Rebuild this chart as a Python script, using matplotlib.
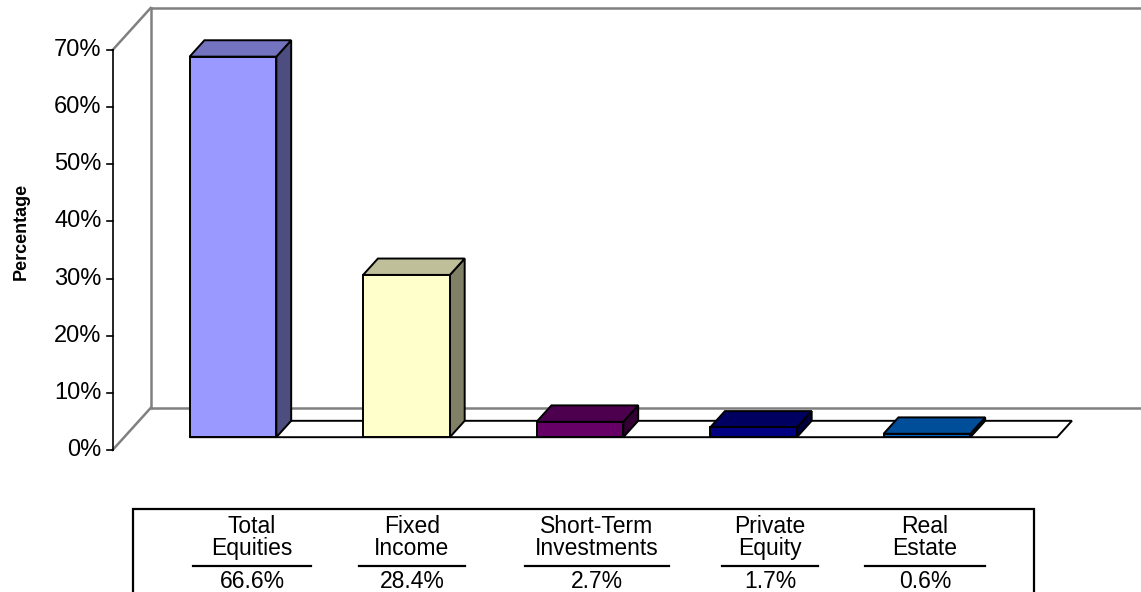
import matplotlib
matplotlib.use('Agg')
import matplotlib.pyplot as plt
from matplotlib.patches import Polygon, Rectangle
from matplotlib.colors import to_rgb

plt.rcParams['font.family'] = ['Liberation Sans', 'DejaVu Sans']

# data
categories = ['Total\nEquities', 'Fixed\nIncome', 'Short-Term\nInvestments', 'Private\nEquity', 'Real\nEstate']
values = [66.6, 28.4, 2.7, 1.7, 0.6]
value_labels = ['66.6%', '28.4%', '2.7%', '1.7%', '0.6%']
yticks = [0, 10, 20, 30, 40, 50, 60, 70]
colors = ['#9999FF', '#FFFFCC', '#660066', '#000080', '#0066CC']

W, H = 1141, 592
fig = plt.figure(figsize=(W / 100, H / 100), dpi=100)
ax = fig.add_axes([0, 0, 1, 1])

# pixel layout -> data units (category index, percent)
UPX = 173.5      # px per category
PPX = 5.714      # px per percent
X0, Y0 = 221.4, 450.0
ax.set_xlim(-X0 / UPX, (W - X0) / UPX)
ax.set_ylim((Y0 - H) / PPX, Y0 / PPX)
ax.axis('off')

DX = 38 / UPX    # depth offset
DY = 42 / PPX
d0, d1 = 0.305, 0.695   # bar depth range
bw = 0.25               # half bar width
left = -0.627
right = 5.6
top = yticks[-1]

gray = '#808080'
# back wall and floor edges
ax.plot([left + DX, right], [DY, DY], color=gray, lw=1.8, solid_capstyle='butt')
ax.plot([left + DX, right], [top + DY, top + DY], color=gray, lw=1.8, solid_capstyle='butt')
ax.plot([left + DX, left + DX], [DY, top + DY], color=gray, lw=1.8)
ax.plot([left, left + DX], [0, DY], color=gray, lw=1.8)
ax.plot([left, left + DX], [top, top + DY], color=gray, lw=1.8)

# front value axis
ax.plot([left, left], [0, top], color='black', lw=1.2, zorder=5)
for t in yticks:
    ax.plot([left - 6 / UPX, left], [t, t], color='black', lw=1.2, zorder=5)
    ax.text(left - 11 / UPX, t, '%d%%' % t, ha='right', va='center', fontsize=17)

# thin floor strip under the series
n = len(values)
strip = [(-bw + d0 * DX, d0 * DY), (n - 1 + 3 * bw + d0 * DX, d0 * DY),
         (n - 1 + 3 * bw + d1 * DX, d1 * DY), (-bw + d1 * DX, d1 * DY)]
ax.add_patch(Polygon(strip, closed=True, facecolor='white', edgecolor='black', lw=1.4, zorder=2))


def shade(c, f):
    r, g, b = to_rgb(c)
    return (r * f, g * f, b * f)


for i, (v, c) in enumerate(zip(values, colors)):
    xl0 = i - bw + d0 * DX
    xr0 = i + bw + d0 * DX
    xl1 = i - bw + d1 * DX
    xr1 = i + bw + d1 * DX
    b0, b1 = d0 * DY, d1 * DY
    front = [(xl0, b0), (xr0, b0), (xr0, b0 + v), (xl0, b0 + v)]
    topf = [(xl0, b0 + v), (xr0, b0 + v), (xr1, b1 + v), (xl1, b1 + v)]
    side = [(xr0, b0), (xr1, b1), (xr1, b1 + v), (xr0, b0 + v)]
    kw = dict(closed=True, edgecolor='black', lw=1.4, joinstyle='miter', zorder=3 + i * 0.1)
    ax.add_patch(Polygon(side, facecolor=shade(c, 0.5), **kw))
    ax.add_patch(Polygon(topf, facecolor=shade(c, 0.75), **kw))
    ax.add_patch(Polygon(front, facecolor=c, **kw))

fig.text(21 / W, 1 - 231 / H, 'Percentage', rotation=90, ha='center', va='center',
         fontsize=13, fontweight='bold')

# data table below the chart
fig.patches.append(Rectangle((133 / W, 1 - 600 / H), (1034 - 133) / W, (600 - 509) / H,
                             transform=fig.transFigure, facecolor='none',
                             edgecolor='black', lw=1.6))
col_x = [252, 412, 597, 770, 925]
line_half = [59, 53, 72, 48, 60]
for cx, hw, name, lab in zip(col_x, line_half, categories, value_labels):
    l1, l2 = name.split('\n')
    fig.text(cx / W, 1 - 533 / H, l1, ha='center', va='baseline', fontsize=16.5)
    fig.text(cx / W, 1 - 555 / H, l2, ha='center', va='baseline', fontsize=16.5)
    fig.add_artist(plt.Line2D([(cx - hw) / W, (cx + hw) / W], [1 - 566 / H, 1 - 566 / H],
                              transform=fig.transFigure, color='black', lw=1.6))
    fig.text(cx / W, 1 - 588 / H, lab, ha='center', va='baseline', fontsize=16.5)

fig.savefig('out.png', dpi=100)
